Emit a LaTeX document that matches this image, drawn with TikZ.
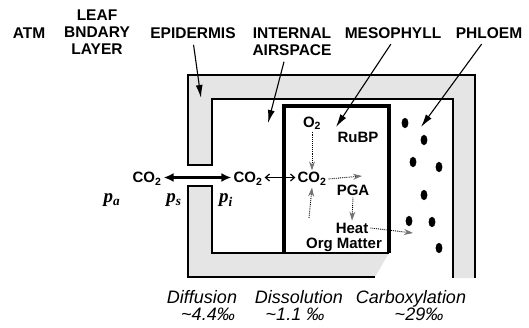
\documentclass[tikz,border=0pt]{standalone}
\usepackage{fontspec}
\setmainfont{Liberation Sans}
\newfontfamily\pvar{Liberation Serif}
\usetikzlibrary{arrows.meta}
\definecolor{stipple}{gray}{0.9}
\definecolor{hatch}{gray}{0.45}

\begin{document}
\begin{tikzpicture}[x=1pt,y=-1pt,
      every node/.style={inner sep=2pt},
      hdr/.style={font=\fontsize{15.5}{17}\selectfont\bfseries},
      lbl/.style={font=\fontsize{15}{13}\selectfont\bfseries},
      pvar/.style={font=\fontsize{19}{19}\selectfont\pvar\bfseries\itshape},
      rate/.style={font=\fontsize{18}{18}\selectfont\itshape},
      ptr/.style={-{Latex[length=13pt,width=7pt]},line width=1.1pt,shorten <=4pt},
      flux/.style={{Latex[length=10pt,width=9pt]}-{Latex[length=10pt,width=9pt]},line width=2.6pt},
      xchg/.style={{Straight Barb[length=4pt,width=7pt]}-{Straight Barb[length=4pt,width=7pt]},line width=1.2pt},
      rxn/.style={densely dotted,line width=0.9pt,-{Stealth[length=9pt,width=6pt,color=hatch]}},
      wall/.style={line width=2.3pt,line join=miter},
      cellwall/.style={line width=3.6pt,line join=miter}]
    \useasboundingbox (0,0) rectangle (529,328);
    % Epidermis: upper piece with stomatal lip, right side open at the bottom
    \fill[stipple] (188,165) -- (188,75) -- (475,75) -- (475,278) -- (453,278) -- (453,99) -- (212,99) -- (212,165) -- cycle;
    \draw[wall] (475,278) -- (475,75) -- (188,75) -- (188,165) -- (212,165) -- (212,99) -- (453,99) -- (453,278);
    % Epidermis: lower piece
    \fill[stipple] (188,186) -- (212,186) -- (212,253) -- (389,253) -- (375,277) -- (188,277) -- cycle;
    \draw[wall] (375,277) -- (188,277) -- (188,186) -- (212,186) -- (212,253) -- (389,253);
    % Mesophyll cell
    \draw[cellwall] (284,253) -- (284,106) -- (389,106) -- (389,253);
    % Phloem particles
    \foreach \px/\py in {405/123,424/140,413/162,439/167,424/195,409/221,432/222,439/248}
      \fill (\px,\py) ellipse [x radius=3.4pt, y radius=5.2pt];
    % Headings along the top
    \node[hdr,anchor=base] (atm) at (29,38.5) {ATM};
    \node[hdr,align=center] (bndry) at (97,32.5) {LEAF\\BNDARY\\LAYER};
    \node[hdr,anchor=base] (epid) at (193,38.5) {EPIDERMIS};
    \node[hdr,align=center] (airsp) at (292,41.8) {INTERNAL\\AIRSPACE};
    \node[hdr,anchor=base] (meso) at (393,38.5) {MESOPHYLL};
    \node[hdr,anchor=base] (phlo) at (489,38.5) {PHLOEM};
    % Tips of the heading pointers
    \coordinate (epidtip) at (201,98);
    \coordinate (airtip) at (268,123);
    \coordinate (mesotip) at (336,127);
    \coordinate (phlotip) at (421,127);
    \draw[ptr] (epid.south) -- (epidtip);
    \draw[ptr] ([xshift=-7pt]airsp.south) -- (airtip);
    \draw[ptr] (meso.south) -- (mesotip);
    \draw[ptr] ([xshift=-5pt]phlo.south) -- (phlotip);
    % CO2 path through the stoma
    \node[lbl,anchor=base] (co2a) at (147,183) {CO\textsubscript{2}};
    \node[lbl,anchor=base] (co2b) at (248,183) {CO\textsubscript{2}};
    \node[lbl,anchor=base] (co2c) at (312,183) {CO\textsubscript{2}};
    \draw[flux] ([yshift=5.5pt]co2a.base east) -- ([yshift=5.5pt]co2b.base west);
    \draw[xchg] ([yshift=5.5pt]co2b.base east) -- ([yshift=5.5pt]co2c.base west);
    % Partial pressures
    \node[pvar,anchor=base] (pa) at (112,203) {p\textsubscript{a}};
    \node[pvar,anchor=base] (ps) at (174,203) {p\textsubscript{s}};
    \node[pvar,anchor=base] (pi) at (226,203) {p\textsubscript{i}};
    % Inside the mesophyll
    \node[lbl] (o2) at (312,123) {O\textsubscript{2}};
    \node[lbl] (rubp) at (358,137) {RuBP};
    \node[lbl] (pga) at (353,190) {PGA};
    \node[lbl] (heat) at (352,228) {Heat};
    \node[lbl] (org) at (344,245) {Org Matter};
    \coordinate (fixend) at (362,176);
    \coordinate (respbeg) at (309,218);
    \coordinate (heatend) at (413,233);
    \draw[rxn] (o2.south) -- (co2c.north);
    \draw[rxn] (respbeg) -- (co2c.south);
    \draw[rxn] (co2c.east) -- (fixend);
    \draw[rxn] (pga.south) -- (heat.north);
    \draw[rxn] (heat.east) -- (heatend);
    % Fractionation steps
    \node[rate,anchor=base] (diff) at (202,303) {Diffusion};
    \node[rate,anchor=base] (diffv) at (208,320) {\textasciitilde4.4‰};
    \node[rate,anchor=base] (diss) at (299,303) {Dissolution};
    \node[rate,anchor=base] (dissv) at (295,320) {\textasciitilde1.1 ‰};
    \node[rate,anchor=base] (carb) at (411,303) {Carboxylation};
    \node[rate,anchor=base] (carbv) at (419,320) {\textasciitilde29‰};
  \end{tikzpicture}
\end{document}
